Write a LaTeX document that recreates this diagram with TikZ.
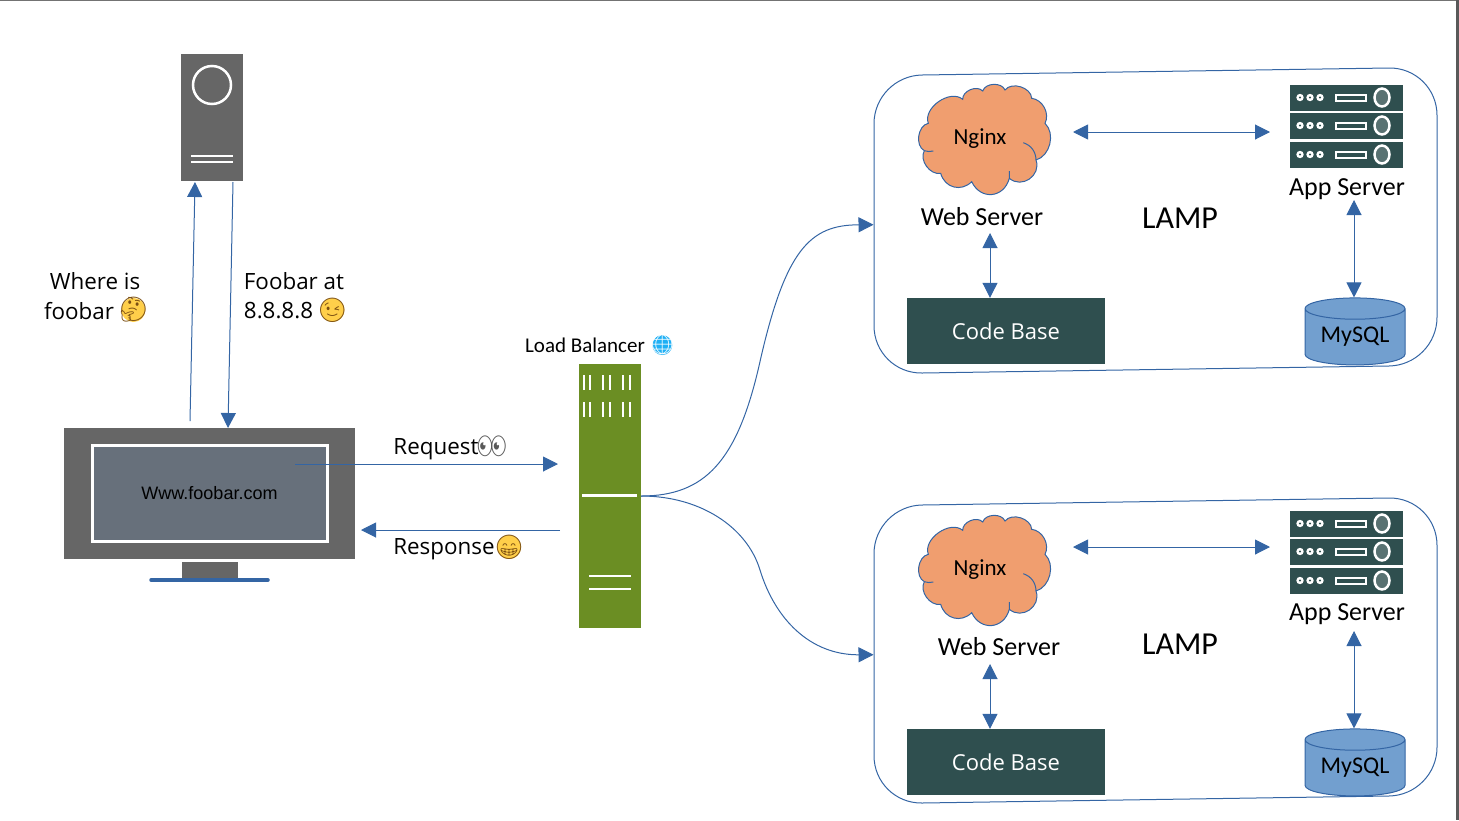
\documentclass[tikz,border=0pt]{standalone}
\usepackage{fontspec}
\setmainfont{Open Sans}
\newfontfamily\handfont{Carlito}
\newfontfamily\arialfont{Liberation Sans}
\newfontfamily\emojifont{Noto Emoji}
\usepackage{tikz}
\usetikzlibrary{positioning, shapes, shapes.geometric, arrows.meta}

\definecolor{BlueLine}{HTML}{3465A4}
\definecolor{BoxGray}{HTML}{666666}
\definecolor{ScreenGray}{HTML}{67707B}
\definecolor{LbGreen}{HTML}{6B8E23}
\definecolor{SlateBox}{HTML}{2F4F4F}
\definecolor{CloudOrange}{HTML}{F09E6F}
\definecolor{DbBlue}{HTML}{729FCF}
\definecolor{FaceYellow}{HTML}{FFCF4A}
\definecolor{FaceBrown}{HTML}{7A4E12}
\definecolor{GlobeBlue}{HTML}{1FB0F5}

\tikzstyle{Arrow} = [draw=BlueLine, line width=1pt, -{Triangle[length=15pt, width=15pt]}]
\tikzstyle{Both} = [draw=BlueLine, line width=1pt, {Triangle[length=15pt, width=15pt]}-{Triangle[length=15pt, width=15pt]}]
\tikzstyle{caption} = [inner sep=0pt, font=\fontsize{22.4}{24}\selectfont]
\tikzstyle{hand} = [inner sep=0pt, font=\handfont\fontsize{26}{28}\selectfont]
\tikzstyle{lamp} = [hand, font=\handfont\fontsize{32}{34}\selectfont]
\tikzstyle{emoji} = [circle, inner sep=-8pt, minimum size=24pt, fill=FaceYellow, text=FaceBrown, font=\emojifont\fontsize{24}{24}\selectfont]
\tikzstyle{stack} = [draw=BlueLine, line width=1pt, rectangle, rounded corners=48pt, minimum width=563pt, minimum height=298pt, yslant=0.015, transform shape]
\tikzstyle{puffs} = [draw=BlueLine, line width=1pt, fill=CloudOrange]
\tikzstyle{nginx} = [inner sep=0pt, font=\handfont\fontsize{23}{25}\selectfont]
\tikzstyle{codebox} = [rectangle, fill=SlateBox, minimum width=198pt, minimum height=66pt, text=white, font=\fontsize{22}{24}\selectfont]
\tikzstyle{mysql} = [cylinder, shape border rotate=90, aspect=0.31, draw=BlueLine, line width=1pt, fill=DbBlue, inner sep=0pt, minimum width=100pt, minimum height=67pt, font=\handfont\fontsize{24}{26}\selectfont]
\tikzstyle{unit} = [rectangle, fill=SlateBox, minimum width=113pt, minimum height=26pt, inner sep=0pt]
\tikzstyle{whiteline} = [draw=white, line width=2.5pt]

\newcommand{\cloudedge}{(928.3,123.3) to[bend left=75] (962.7,99.3) to[bend left=70] (982.7,91)
 to[bend left=70] (1005,90) to[bend left=70] (1031.7,98.3) to[bend left=55] (1045,123.3)
 to[bend left=60] (1036,160) to[bend left=75, looseness=1.3] (1009.3,178.3) to[bend left=70, looseness=1.4] (971.7,181.7)
 to[bend left=60, looseness=1.2] (940.7,173.3) to[bend left=65] (924.3,150.7) to[bend left=70] cycle
 (1023.3,142.7) to[bend left=35] (1036,160) (1009.3,171) to[bend left=10] (1009.3,178.3)
 (924.3,150.7) to[bend right=15] (933.3,151)}

\begin{document}
\begin{tikzpicture}[x=1pt, y=-1pt]
 \useasboundingbox (0,0) rectangle (1459,820);
 \draw[black!55, line width=1pt] (0,0.5) -- (1458,0.5);
 \draw[black!65, line width=3pt] (1457.5,0) -- (1457.5,820);

 % client side
 \node[rectangle, fill=BoxGray, minimum width=62pt, minimum height=127pt] (dns) at (212,117.5) {};
 \node[circle, draw=white, line width=2.5pt, minimum size=38pt, inner sep=0pt] (dnslamp) at (212,85) {};
 \draw[whiteline] (191,156) -- (233,156);
 \draw[whiteline] (191,162) -- (233,162);

 \node[rectangle, fill=BoxGray, minimum width=291pt, minimum height=131pt] (monitor) at (209.5,493.5) {};
 \node[rectangle, fill=ScreenGray, draw=white, line width=3pt, minimum width=235pt, minimum height=96pt, font=\arialfont\fontsize{18}{20}\selectfont] (screen) at (209.5,493) {Www.foobar.com};
 \node[rectangle, fill=BoxGray, minimum width=56pt, minimum height=17pt, inner sep=0pt] (foot) at (209.5,570) {};
 \draw[BlueLine, line width=3.5pt, line cap=round] (151,580) -- (268,580);

 \node[caption] (where) at (95,281) {Where is};
 \node[caption] (foobar) at (79,311) {foobar};
 \node[emoji, right=7pt of foobar, yshift=1pt] (think) {\char"1F914};
 \node[caption] (answer) at (294,281) {Foobar at};
 \node[caption] (ip) at (278.5,311) {8.8.8.8};
 \node[emoji, right=7pt of ip, yshift=1pt] (wink) {\char"1F609};

 % load balancer
 \node[rectangle, fill=LbGreen, minimum width=62pt, minimum height=264pt, inner sep=0pt] (lb) at (610,496) {};
 \foreach \x in {584,590,603,610,623,630} {
  \draw[whiteline] (\x,375) -- (\x,390);
  \draw[whiteline] (\x,402) -- (\x,417);
 }
 \draw[whiteline] (582,495.5) -- (637,495.5);
 \draw[whiteline] (589,576) -- (631,576);
 \draw[whiteline] (589,589) -- (631,589);
 \node[hand, font=\handfont\fontsize{21}{23}\selectfont] (lbname) at (585,345) {Load Balancer};
 \node[emoji, minimum size=20pt, fill=GlobeBlue, text=white, font=\emojifont\fontsize{20}{20}\selectfont, right=7pt of lbname] (globe) {\char"1F310};

 \node[caption] (req) at (436,449) {Request};
 \node[emoji, fill=none, text=black!65, right=1pt of req, yshift=3pt] (eyes) {\char"1F440};
 \node[caption] (resp) at (444,549) {Response};
 \node[emoji, right=2pt of resp, yshift=2pt] (grin) {\char"1F601};

 \coordinate (askfrom) at (190,421);
 \coordinate (askto) at (195,182);
 \coordinate (ansfrom) at (233,182);
 \coordinate (ansto) at (228,428);
 \coordinate (reqfrom) at (295,464);
 \coordinate (reqto) at (558,464);
 \coordinate (respfrom) at (560,530);
 \coordinate (respto) at (361,530);
 \draw[Arrow] (askfrom) -- (askto);
 \draw[Arrow] (ansfrom) -- (ansto);
 \draw[Arrow] (reqfrom) -- (reqto);
 \draw[Arrow] (respfrom) -- (respto);

 % upper stack
 \node[stack] (lamp1) at (1155.5,220.5) {};
 \draw[puffs] \cloudedge;
 \node[nginx] (cloud1) at (980,139) {Nginx};
 \node[hand] (web1) at (982,217) {Web Server};
 \node[lamp] (name1) at (1180,218) {LAMP};
 \node[hand] (app1) at (1347,189) {App Server};
 \node[codebox] (base1) at (1006,331) {Code Base};
 \node[mysql] (db1) at (1355,337) {MySQL};
 \foreach \y in {97.5,125.5,154.5} {
  \node[unit] at (1346.5,\y) {};
  \foreach \x in {1300,1310,1320} {
   \fill[white] (\x,\y) circle (3.7pt);
   \fill[SlateBox] (\x,\y) circle (1.2pt);
  }
  \draw[whiteline, line width=2pt] (1336,\y-3) rectangle (1366,\y+3);
  \draw[draw=white, line width=2.5pt, fill=SlateBox!80!white] (1382,\y) ellipse (7.5pt and 9pt);
 }
 \coordinate (rack1) at (1270,132);
 \coordinate (cloudside1) at (1073,132);
 \coordinate (webfoot1) at (990,233);
 \coordinate (appfoot1) at (1354,200);
 \draw[Both] (cloudside1) -- (rack1);
 \draw[Both] (webfoot1) -- (base1.north -| webfoot1);
 \draw[Both] (appfoot1) -- (db1.north -| appfoot1);

 % lower stack
 \node[stack] (lamp2) at (1155.5,650.5) {};
 \draw[puffs, shift={(0,431)}] \cloudedge;
 \node[nginx] (cloud2) at (980,570) {Nginx};
 \node[hand] (web2) at (999,647) {Web Server};
 \node[lamp] (name2) at (1180,644) {LAMP};
 \node[hand] (app2) at (1347,614) {App Server};
 \node[codebox] (base2) at (1006,762) {Code Base};
 \node[mysql] (db2) at (1355,768) {MySQL};
 \foreach \y in {523.5,551.5,580.5} {
  \node[unit] at (1346.5,\y) {};
  \foreach \x in {1300,1310,1320} {
   \fill[white] (\x,\y) circle (3.7pt);
   \fill[SlateBox] (\x,\y) circle (1.2pt);
  }
  \draw[whiteline, line width=2pt] (1336,\y-3) rectangle (1366,\y+3);
  \draw[draw=white, line width=2.5pt, fill=SlateBox!80!white] (1382,\y) ellipse (7.5pt and 9pt);
 }
 \coordinate (rack2) at (1270,547);
 \coordinate (cloudside2) at (1073,547);
 \coordinate (webfoot2) at (990,664);
 \coordinate (appfoot2) at (1354,631);
 \draw[Both] (cloudside2) -- (rack2);
 \draw[Both] (webfoot2) -- (base2.north -| webfoot2);
 \draw[Both] (appfoot2) -- (db2.north -| appfoot2);

 \coordinate (bend1) at (759,366);
 \coordinate (bend2) at (760,570);
 \draw[Arrow] (lb.east) .. controls (705,496) and (737,461) .. (bend1) .. controls (785,249) and (810,225) .. (lamp1.west);
 \draw[Arrow] (lb.east) .. controls (700,496) and (747,527) .. (bend2) .. controls (775,619) and (810,655) .. (lamp2.west);
\end{tikzpicture}
\end{document}
